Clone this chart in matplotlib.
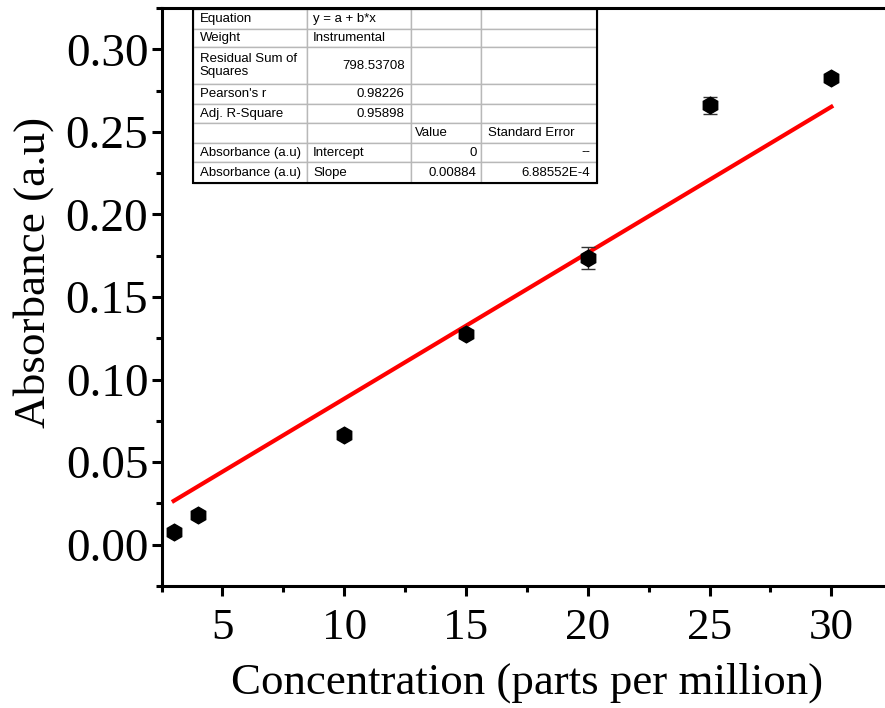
import matplotlib
matplotlib.use("Agg")
import matplotlib.pyplot as plt
from matplotlib.patches import Rectangle
from matplotlib.ticker import MultipleLocator, FormatStrFormatter
import numpy as np

# calibration points
conc = [3, 4, 10, 15, 20, 25, 30]
absorb = [0.0079, 0.0182, 0.0662, 0.1278, 0.1738, 0.2660, 0.2824]
absorb_err = [0.0008, 0.0008, 0.0010, 0.0020, 0.0066, 0.0053, 0.0015]

# linear fit through origin
intercept = 0.0
slope = 0.00884

# fit report
fit_table = [
    ["Equation", "y = a + b*x", "", ""],
    ["Weight", "Instrumental", "", ""],
    ["Residual Sum of\nSquares", "798.53708", "", ""],
    ["Pearson's r", "0.98226", "", ""],
    ["Adj. R-Square", "0.95898", "", ""],
    ["", "", "Value", "Standard Error"],
    ["Absorbance (a.u)", "Intercept", "0", "--"],
    ["Absorbance (a.u)", "Slope", "0.00884", "6.88552E-4"],
]

plt.rcParams['font.family'] = 'Liberation Serif'

fig = plt.figure(figsize=(8.85, 7.08), dpi=100)
ax = fig.add_axes([0.1825, 0.1723, 0.8395, 0.8164])

ax.errorbar(conc, absorb, yerr=absorb_err, fmt='h', color='black', ms=12,
            ecolor='#333333', elinewidth=1, capsize=5, capthick=1, zorder=3)

xfit = np.array([conc[0], conc[-1]])
ax.plot(xfit, intercept + slope * xfit, color='red', lw=3, zorder=2)

ax.set_xlim(2.5, 33.0)
ax.set_ylim(-0.025, 0.325)
ax.xaxis.set_major_locator(MultipleLocator(5))
ax.xaxis.set_minor_locator(MultipleLocator(2.5))
ax.yaxis.set_major_locator(MultipleLocator(0.05))
ax.yaxis.set_minor_locator(MultipleLocator(0.025))
ax.yaxis.set_major_formatter(FormatStrFormatter('%.2f'))

for s in ax.spines.values():
    s.set_linewidth(2.2)
ax.tick_params(which='major', direction='out', length=7.5, width=2.2)
ax.tick_params(which='minor', direction='out', length=4.5, width=2.2)
ax.tick_params(axis='x', which='major', labelsize=32.5, pad=8.5)
ax.tick_params(axis='y', which='major', labelsize=34, pad=2)

ax.set_xlabel("Concentration (parts per million)", fontsize=32.3)
ax.set_ylabel("Absorbance (a.u)", fontsize=32.5)
ax.xaxis.set_label_coords(0.4926, -0.133)
ax.yaxis.set_label_coords(-0.145, 0.543)

# fit report table in the upper left
col_w = [114, 104, 70, 116]
row_h = [20, 18, 37, 20, 19, 20, 19, 21]
tbl = ax.table(cellText=fit_table, cellLoc='left',
               bbox=[0.0424, 0.6972, 0.5437, 0.301])
tbl.auto_set_font_size(False)
for (r, c), cell in tbl.get_celld().items():
    cell.set_width(col_w[c])
    cell.set_height(row_h[r])
    cell.set_edgecolor('#b8b8b8')
    cell.set_linewidth(1)
    cell.PAD = 0.06
    txt = cell.get_text()
    txt.set_fontfamily('Liberation Sans')
    txt.set_fontsize(9.5)
    try:
        float(txt.get_text().replace('E', 'e'))
        numeric = True
    except ValueError:
        numeric = False
    if numeric or txt.get_text() == "--":
        txt.set_horizontalalignment('right')
        cell._loc = 'right'
ax.add_patch(Rectangle((0.0424, 0.6972), 0.5437, 0.301, transform=ax.transAxes,
                       fill=False, edgecolor='black', lw=1.5, zorder=10,
                       clip_on=False))

fig.savefig("out.png", dpi=100)
